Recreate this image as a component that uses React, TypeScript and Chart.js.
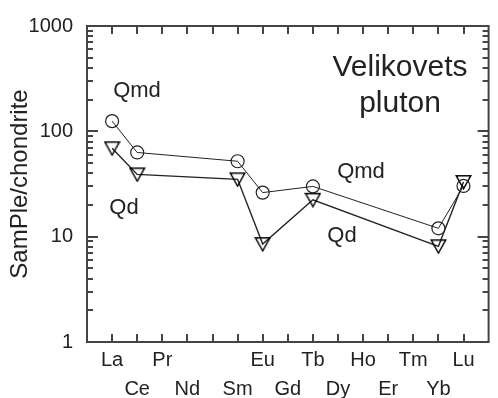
import React, { useEffect, useRef } from 'react';
import { Chart, registerables } from 'chart.js';

Chart.register(...registerables);

// Rare earth elements along the x axis (Pm position is kept but not labelled)
const categories = ['La', 'Ce', 'Pr', 'Nd', 'Pm', 'Sm', 'Eu', 'Gd', 'Tb', 'Dy', 'Ho', 'Er', 'Tm', 'Yb', 'Lu'];
const hiddenLabels = ['Pm'];

// Analysed elements and chondrite-normalised values
const sampleElements = ['La', 'Ce', 'Sm', 'Eu', 'Tb', 'Yb', 'Lu'];
const qmdValues = [125, 63, 52, 26.2, 30, 12, 30.3];
const qdValues = [69, 39, 35, 8.5, 22.4, 8.1, 33];

// Labelled y ticks
const yTickValues = [1, 10, 100, 1000];

const FONT = "'Liberation Sans', Arial, Helvetica, sans-serif";
const INK = '#222';
const AXIS = '#444';

const toPoints = (vals: number[]) =>
  sampleElements.map((el, i) => ({ x: categories.indexOf(el), y: vals[i] }));

const framePlugin = {
  id: 'frame',
  afterDraw(chart: any) {
    const { ctx, chartArea: a, scales } = chart;
    const xs = scales.x;
    const ys = scales.y;
    ctx.save();
    ctx.strokeStyle = AXIS;
    ctx.lineWidth = 2;
    ctx.strokeRect(a.left, a.top, a.right - a.left, a.bottom - a.top);
    ctx.beginPath();
    categories.forEach((_, i) => {
      const px = Math.round(xs.getPixelForValue(i));
      ctx.moveTo(px, a.bottom);
      ctx.lineTo(px, a.bottom - 8);
      ctx.moveTo(px, a.top);
      ctx.lineTo(px, a.top + 8);
    });
    for (let d = 0; d < 3; d++) {
      const base = Math.pow(10, d);
      for (let k = 1; k <= 9; k++) {
        if (d === 0 && k === 1) continue;
        const v = base * k;
        const py = Math.round(ys.getPixelForValue(v));
        const major = k === 1;
        ctx.moveTo(a.left, py);
        ctx.lineTo(a.left + (major ? 11 : 6), py);
        ctx.moveTo(a.right, py);
        ctx.lineTo(a.right - (major ? 11 : 6), py);
      }
    }
    ctx.stroke();

    // annotations
    ctx.fillStyle = INK;
    ctx.textAlign = 'center';
    ctx.textBaseline = 'alphabetic';
    ctx.font = `30px ${FONT}`;
    ctx.fillText('Velikovets', 400, 76);
    ctx.fillText('pluton', 400, 112);
    ctx.font = `22px ${FONT}`;
    ctx.fillText('Qmd', 137, 97);
    ctx.fillText('Qd', 124, 214);
    ctx.fillText('Qmd', 361, 178);
    ctx.fillText('Qd', 342, 242);

    // y axis title
    ctx.save();
    ctx.translate(27, (a.top + a.bottom) / 2);
    ctx.rotate(-Math.PI / 2);
    ctx.font = `24px ${FONT}`;
    ctx.fillText('SamPle/chondrite', 0, 0);
    ctx.restore();
    ctx.restore();
  },
};

export default function App() {
  const ref = useRef<HTMLCanvasElement>(null);

  useEffect(() => {
    const tri = document.createElement('canvas');
    tri.width = 17;
    tri.height = 16;
    const t = tri.getContext('2d')!;
    t.strokeStyle = '#000';
    t.lineWidth = 1.4;
    t.lineJoin = 'miter';
    t.beginPath();
    t.moveTo(1.2, 1.7);
    t.lineTo(15.8, 1.7);
    t.lineTo(8.5, 14.8);
    t.closePath();
    t.stroke();

    const chart = new Chart(ref.current!, {
      type: 'line',
      data: {
        datasets: [
          {
            label: 'Qmd',
            data: toPoints(qmdValues),
            borderColor: INK,
            borderWidth: 1,
            backgroundColor: 'rgba(0,0,0,0)',
            pointStyle: 'circle',
            pointRadius: 6.5,
            pointBorderWidth: 1.2,
            pointBorderColor: INK,
            pointBackgroundColor: 'rgba(0,0,0,0)',
            tension: 0,
          },
          {
            label: 'Qd',
            data: toPoints(qdValues),
            borderColor: INK,
            borderWidth: 1.4,
            backgroundColor: 'rgba(0,0,0,0)',
            pointStyle: tri as any,
            pointRadius: 8,
            tension: 0,
          },
        ],
      },
      options: {
        responsive: false,
        animation: false,
        layout: { padding: { top: 22, right: 1, left: 0, bottom: 0 } },
        plugins: { legend: { display: false }, tooltip: { enabled: false } },
        scales: {
          x: {
            type: 'linear',
            min: -1,
            max: 15,
            grid: { display: false, drawTicks: false },
            border: { display: false },
            ticks: {
              stepSize: 1,
              autoSkip: false,
              maxRotation: 0,
              padding: 4,
              color: INK,
              font: { family: FONT, size: 20, lineHeight: 1.45 },
              callback: (v: any) => {
                const i = Number(v);
                const name = categories[i];
                if (name === undefined || hiddenLabels.includes(name)) return '';
                return i % 2 === 0 ? [name, ''] : ['', name];
              },
            },
            afterFit: (scale: any) => {
              scale.height = 56;
            },
          },
          y: {
            type: 'logarithmic',
            min: 1,
            max: 1000,
            grid: { display: false, drawTicks: false },
            border: { display: false },
            ticks: {
              autoSkip: false,
              padding: 14,
              color: INK,
              font: { family: FONT, size: 20 },
              callback: (v: any) => (yTickValues.includes(Number(v)) ? String(v) : ''),
            },
            afterFit: (scale: any) => {
              scale.width = 87;
            },
          },
        },
      },
      plugins: [framePlugin],
    } as any);
    return () => chart.destroy();
  }, []);

  return (
    <div style={{ position: 'fixed', left: 0, top: 0, width: 498, height: 398, background: '#fff' }}>
      <canvas ref={ref} width={498} height={398} style={{ display: 'block' }} />
    </div>
  );
}
